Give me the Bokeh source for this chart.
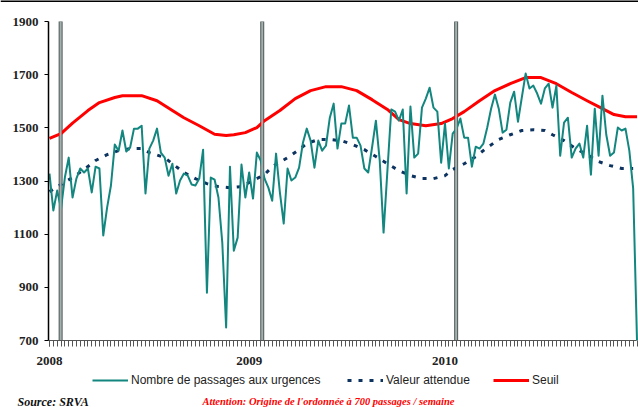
from bokeh.plotting import figure
from bokeh.models import Range1d, FixedTicker, Label, Legend, LegendItem, Span
from bokeh.embed import file_html
from bokeh.resources import INLINE

# Weekly emergency visits (week index 0 = first week of 2008)
passages = [
    1328, 1189, 1264, 1196, 1313, 1388, 1238, 1309, 1347, 1332,
    1347, 1257, 1354, 1347, 1095, 1200, 1283, 1437, 1414, 1490,
    1411, 1426, 1497, 1497, 1508, 1253, 1422, 1452, 1497, 1407,
    1388, 1320, 1365, 1253, 1302, 1328, 1320, 1287, 1283, 1309,
    1418, 880, 1313, 1305, 1238, 1068, 749, 1354, 1038, 1087,
    1362, 1238, 1332, 1234, 1407, 1377, 1309, 1275, 1226, 1403,
    1257, 1140, 1347, 1302, 1313, 1350, 1444, 1497, 1452, 1350,
    1452, 1414, 1433, 1538, 1591, 1422, 1516, 1516, 1584, 1463,
    1463, 1433, 1347, 1332, 1426, 1527, 1377, 1106, 1339, 1569,
    1561, 1527, 1569, 1253, 1580, 1388, 1403, 1576, 1610, 1651,
    1576, 1561, 1369, 1516, 1347, 1478, 1497, 1535, 1463, 1463,
    1354, 1429, 1422, 1441, 1501, 1572, 1625, 1572, 1482, 1493,
    1595, 1636, 1523, 1614, 1704, 1648, 1659, 1629, 1591, 1648,
    1666, 1576, 1659, 1395, 1520, 1538, 1388, 1422, 1441, 1388,
    1508, 1324, 1572, 1395, 1621, 1474, 1395, 1407, 1501, 1490,
    1497, 1414, 1272, 700,
]
weeks = list(range(len(passages)))

# Expected value (dotted)
attendue_weeks = [0, 3, 6, 9, 12, 15, 18, 21, 24, 26, 30, 32, 35, 38, 41, 44, 47, 50, 53, 56,
                  58, 62, 65, 67, 70, 73, 76, 79, 82, 85, 88, 91, 94, 97, 100, 103, 105, 108, 111, 114,
                  117, 120, 123, 126, 129, 131, 134, 137, 140, 143, 146, 149, 152]
attendue = [1260, 1287, 1313, 1343, 1377, 1399, 1414, 1422, 1422, 1407,
            1388, 1365, 1332, 1309, 1290, 1279, 1275, 1279, 1302, 1324,
            1354, 1388, 1418, 1441, 1456, 1456, 1452, 1437, 1418, 1392,
            1365, 1339, 1320, 1309, 1309, 1320, 1343, 1365, 1392, 1426,
            1456, 1474, 1490, 1493, 1490, 1474, 1452, 1422, 1399, 1373,
            1358, 1347, 1347]

# Threshold (red)
seuil_weeks = [0, 3, 6, 10, 13, 17, 19, 24, 28, 32, 35, 39, 43, 46, 48, 51, 54, 56, 60, 64,
               68, 72, 76, 80, 84, 88, 91, 94, 98, 102, 105, 108, 112, 116, 120, 124, 128, 132, 136, 140,
               144, 147, 150, 153]
seuil = [1460, 1478, 1518, 1565, 1595, 1614, 1621, 1621, 1602, 1565,
         1538, 1508, 1476, 1471, 1474, 1482, 1501, 1527, 1565, 1610,
         1640, 1655, 1655, 1640, 1606, 1569, 1531, 1516, 1508, 1516,
         1535, 1561, 1602, 1640, 1666, 1689, 1689, 1666, 1633, 1602,
         1572, 1550, 1542, 1542]

# Vertical markers (week positions)
markers = [2.9, 55.4, 105.9]

year_ticks = [0, 52, 103]
year_labels = ["2008", "2009", "2010"]
y_ticks = [700, 900, 1100, 1300, 1500, 1700, 1900]
x_axis_start, x_axis_end = -0.26, 152.95

p = figure(width=638, height=407, output_backend="svg", toolbar_location=None,
           x_range=Range1d(-12.76, 153.39), y_range=Range1d(448, 1979),
           min_border=0, min_border_left=0, min_border_right=0,
           min_border_top=0, min_border_bottom=0)
p.grid.visible = False
p.outline_line_color = None
p.background_fill_color = "white"
p.border_fill_color = "white"

# thin frame line along the top edge
p.add_layout(Span(location=p.y_range.end, dimension="width", line_color="#000000", line_width=3))

# X axis (fixed at the origin of the ordinate)
p.xaxis.fixed_location = y_ticks[0]
p.xaxis.bounds = (x_axis_start, x_axis_end)
p.xaxis.ticker = FixedTicker(ticks=year_ticks, minor_ticks=weeks)
p.xaxis.major_label_overrides = {t: l for t, l in zip(year_ticks, year_labels)}
p.xaxis.axis_line_color = "#555555"
p.xaxis.major_tick_line_color = "#555555"
p.xaxis.minor_tick_line_color = "#555555"
p.xaxis.major_tick_out = 6
p.xaxis.major_tick_in = 0
p.xaxis.minor_tick_out = 6
p.xaxis.minor_tick_in = 0
p.xaxis.major_label_standoff = 10
p.xaxis.major_label_text_font = "Liberation Serif"
p.xaxis.major_label_text_font_style = "bold"
p.xaxis.major_label_text_font_size = "13px"
p.xaxis.major_label_text_color = "#222222"

# Y axis (fixed at the start of the time axis)
p.yaxis.fixed_location = x_axis_start
p.yaxis.bounds = (y_ticks[0], y_ticks[-1])
p.yaxis.ticker = FixedTicker(ticks=y_ticks)
p.yaxis.axis_line_color = "#000000"
p.yaxis.axis_line_width = 1.5
p.yaxis.major_tick_line_color = "#000000"
p.yaxis.major_tick_out = 4
p.yaxis.major_tick_in = 0
p.yaxis.minor_tick_line_color = None
p.yaxis.major_label_standoff = 6
p.yaxis.major_label_text_font = "Liberation Serif"
p.yaxis.major_label_text_font_style = "bold"
p.yaxis.major_label_text_font_size = "13px"
p.yaxis.major_label_text_color = "#222222"

# Vertical markers
n = len(markers)
p.segment(x0=markers, y0=[y_ticks[0]] * n, x1=markers, y1=[y_ticks[-1]] * n,
          line_color="#4f5a58", line_width=4)

r_seuil = p.line(seuil_weeks, seuil, line_color="#ff0000", line_width=3, line_join="round")
r_att = p.line(attendue_weeks, attendue, line_color="#0d3461", line_width=3, line_dash="4 7")
r_pass = p.line(weeks, passages, line_color="#12867f", line_width=2, line_join="round")

p.segment(x0=markers, y0=[y_ticks[0]] * n, x1=markers, y1=[y_ticks[-1]] * n,
          line_color="#a3b0ad", line_width=2)

leg_specs = [("Nombre de passages aux urgences", r_pass, 92),
             ("Valeur attendue", r_att, 347),
             ("Seuil", r_seuil, 493)]
for label, r, vx in leg_specs:
    leg = Legend(items=[LegendItem(label=label, renderers=[r])], location=(vx, 19),
                 orientation="horizontal", padding=0, margin=0, spacing=0,
                 glyph_width=36, glyph_height=16, label_height=16, label_standoff=3,
                 border_line_color=None, background_fill_alpha=0,
                 label_text_font="Liberation Sans", label_text_font_size="12px",
                 label_text_color="#222222")
    p.add_layout(leg)

p.add_layout(Label(x=17, y=6, x_units="screen", y_units="screen", text="Source: SRVA",
                   text_font="Liberation Serif", text_font_style="bold italic",
                   text_font_size="12px", text_color="#111111", text_baseline="alphabetic"))
p.add_layout(Label(x=202, y=6, x_units="screen", y_units="screen",
                   text="Attention: Origine de l'ordonnée à 700 passages / semaine",
                   text_font="Liberation Serif", text_font_style="bold italic",
                   text_font_size="10.5px", text_color="#ff0000", text_baseline="alphabetic"))

open("out.html", "w").write(file_html(p, INLINE))
